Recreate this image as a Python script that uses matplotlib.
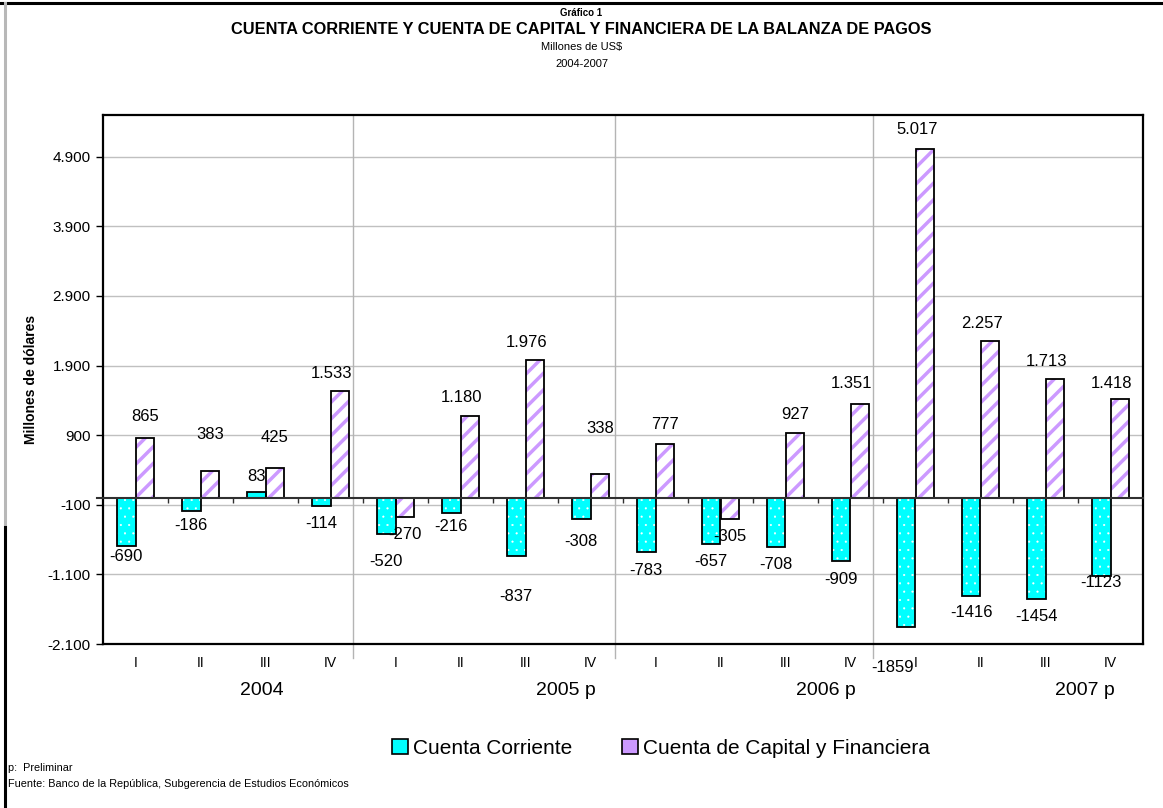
import numpy as np
import matplotlib
matplotlib.use("Agg")
from matplotlib import pyplot as plt
from matplotlib.patches import Patch
import matplotlib.transforms as mtransforms

plt.rcParams['font.family'] = ['Liberation Sans', 'DejaVu Sans']

# data
quarters = ['I', 'II', 'III', 'IV'] * 4
years = ['2004', '2005 p', '2006 p', '2007 p']
year_pos = [1.94, 6.62, 10.62, 14.6]
cuenta_corriente = [-690, -186, 83, -114, -520, -216, -837, -308,
                    -783, -657, -708, -909, -1859, -1416, -1454, -1123]
cuenta_capital = [865, 383, 425, 1533, -270, 1180, 1976, 338,
                  777, -305, 927, 1351, 5017, 2257, 1713, 1418]

# label offsets (px) away from bar end, tweaked like the original
cc_label_off = [11, 15, 16, 18, 27, 14, 40, 22, 18, 18, 17, 18, 40, 16, 17, 7]
cc_label_dx = [0] * 12 + [-13, 0, 0, 0]
ck_label_off = [21, 37, 31, 18, 18, 18, 18, 46, 19, 17, 19, 20, 19, 17, 17, 16]

CYAN = '#00FFFF'
LILA = '#CC99FF'


def fmt(v):
    if v < 0:
        return str(v)
    return f"{v:,}".replace(',', '.')


fig = plt.figure(figsize=(11.63, 8.08), dpi=100)
ax = fig.add_axes([103 / 1163, 1 - 644 / 808, 1040 / 1163, 529 / 808])

x = np.arange(len(quarters))
w = 0.292

plt.rcParams['hatch.linewidth'] = 0.3
b1 = ax.bar(x - w / 2, cuenta_corriente, w, color=CYAN, edgecolor='white', hatch='..', linewidth=0, zorder=3)
plt.rcParams['hatch.linewidth'] = 2.5
b2 = ax.bar(x + w / 2, cuenta_capital, w, color='white', edgecolor=LILA, hatch='//', linewidth=0, zorder=3)
for b in b1:
    if hasattr(b, 'set_hatch_linewidth'):
        b.set_hatch_linewidth(0.3)
for b in b2:
    if hasattr(b, 'set_hatch_linewidth'):
        b.set_hatch_linewidth(2.5)
ax.bar(x - w / 2, cuenta_corriente, w, color='none', edgecolor='black', linewidth=1.3, zorder=4)
ax.bar(x + w / 2, cuenta_capital, w, color='none', edgecolor='black', linewidth=1.3, zorder=4)

# data labels
for i in range(len(x)):
    v = cuenta_corriente[i]
    d = cc_label_off[i] * 0.72
    ax.annotate(fmt(v), (x[i] - w / 2, v), xytext=(cc_label_dx[i] * 0.72, d if v >= 0 else -d),
                textcoords='offset points', ha='center', va='center', fontsize=12, zorder=5)
    v = cuenta_capital[i]
    d = ck_label_off[i] * 0.72
    dx = -8 * 0.72 if len(fmt(v)) >= 5 else 0
    ax.annotate(fmt(v), (x[i] + w / 2, v), xytext=(dx, d if v >= 0 else -d),
                textcoords='offset points', ha='center', va='center', fontsize=12, zorder=5)

ax.set_xlim(-0.5, 15.5)
ax.set_ylim(-2100, 5500)
yt = np.arange(-2100, 5000, 1000)
ax.set_yticks(yt)
ax.set_yticklabels([f"{t:,}".replace(',', '.') for t in yt], fontsize=11)
ax.yaxis.grid(True, color='#C0C0C0', linewidth=1.0, zorder=0)
ax.set_axisbelow(True)
ax.tick_params(axis='y', direction='out', length=5, width=1, pad=4)
ax.set_xticks([])
for s in ax.spines.values():
    s.set_linewidth(1.6)
    s.set_color('black')

# zero line with small category ticks
ax.plot([-0.6, 15.5], [0, 0], color='#303030', linewidth=1.5, clip_on=False, zorder=4)
ax.vlines(np.arange(0.5, 15.5, 1.0), -75, 0, color='#303030', linewidth=1.0, zorder=4)

# year separators
trans = mtransforms.blended_transform_factory(ax.transData, ax.transAxes)
for sx in [3.35, 7.37, 11.34]:
    ax.plot([sx, sx], [1, -0.027], color='#B4B4B4', linewidth=1.0, transform=trans, clip_on=False, zorder=1)

# category labels
for i, q in enumerate(quarters):
    ax.text(x[i], -0.036, q, transform=trans, ha='center', va='center', fontsize=10)
for j, yr in enumerate(years):
    ax.text(year_pos[j], -0.087, yr, transform=trans, ha='center', va='center', fontsize=14)

ax.set_ylabel('Millones de dólares', fontsize=10, fontweight='bold')
ax.yaxis.set_label_coords(-0.0625, 0.5)

# titles
fig.text(0.5, 1 - 13 / 808, 'Gráfico 1', ha='center', va='center', fontsize=7, fontweight='bold')
fig.text(0.5, 1 - 29 / 808, 'CUENTA CORRIENTE Y CUENTA DE CAPITAL Y FINANCIERA DE LA BALANZA DE PAGOS',
         ha='center', va='center', fontsize=11.8, fontweight='bold')
fig.text(0.5, 1 - 47 / 808, 'Millones de US$', ha='center', va='center', fontsize=8)
fig.text(0.5, 1 - 64 / 808, '2004-2007', ha='center', va='center', fontsize=8)

# legend
handles = [Patch(facecolor=CYAN, edgecolor='black', linewidth=1.2),
           Patch(facecolor=LILA, edgecolor='black', linewidth=1.2)]
fig.legend(handles, ['Cuenta Corriente', 'Cuenta de Capital y Financiera'], loc='center',
           bbox_to_anchor=(661 / 1163, 1 - 748 / 808), ncol=2, frameon=False, fontsize=15,
           handlelength=0.75, handleheight=0.75, handletextpad=0.25, columnspacing=2.4)

# footnotes
fig.text(8 / 1163, 1 - 768 / 808, 'p:  Preliminar', ha='left', va='center', fontsize=7.8)
fig.text(8 / 1163, 1 - 784 / 808, 'Fuente: Banco de la República, Subgerencia de Estudios Económicos',
         ha='left', va='center', fontsize=7.8)

# outer frame pieces
fig.add_artist(plt.Line2D([0, 1], [1 - 3 / 808, 1 - 3 / 808], color='black', linewidth=2.2, transform=fig.transFigure))
fig.add_artist(plt.Line2D([5 / 1163, 5 / 1163], [1 - 3 / 808, 1 - 527 / 808], color='#B8B8B8', linewidth=2.2, transform=fig.transFigure))
fig.add_artist(plt.Line2D([5 / 1163, 5 / 1163], [1 - 527 / 808, 0], color='black', linewidth=2.2, transform=fig.transFigure))

fig.savefig('out.png', dpi=100)
